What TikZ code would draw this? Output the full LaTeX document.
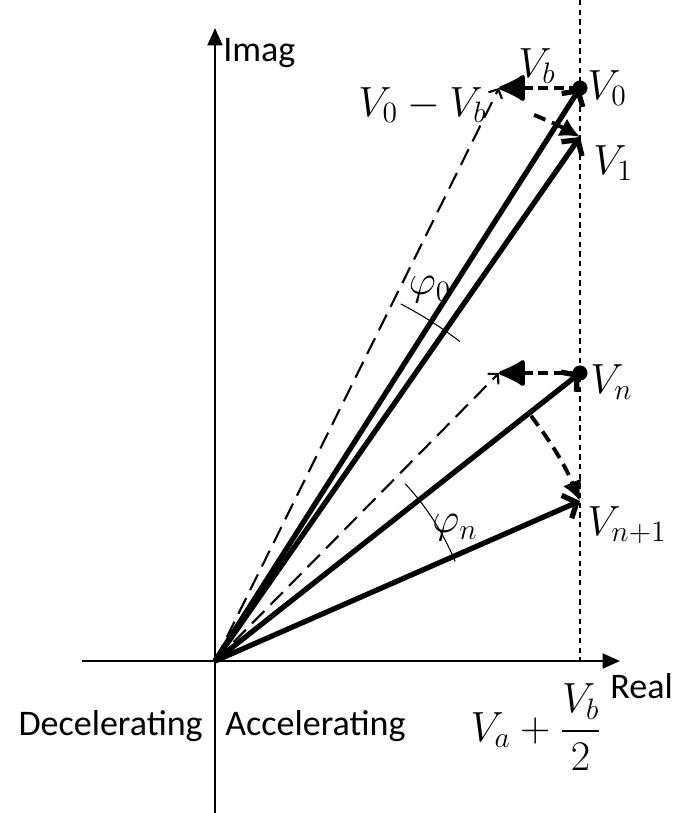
\documentclass[tikz,border=0pt]{standalone}
\usepackage{fix-cm}
\usepackage{amsmath}
\usepackage{fontspec}
\setsansfont{Carlito}
\usetikzlibrary{arrows.meta,calc}

\begin{document}
\begin{tikzpicture}[
  axis/.style={draw, line width=1.3pt, -{Triangle[length=0.35cm,width=0.3cm]}},
  vec/.style={draw, line width=3pt, -{Straight Barb[length=0.22cm,width=0.5cm]}},
  diffvec/.style={draw, line width=1.2pt, dash pattern=on 10pt off 5pt,
                  -{Straight Barb[length=0.14cm,width=0.3cm]}},
  vbvec/.style={draw, line width=2.2pt, dash pattern=on 6pt off 3pt,
                -{Latex[length=0.6cm,width=0.6cm,round]}},
  rotvec/.style={draw, line width=2.2pt, dash pattern=on 7pt off 4pt,
                 -{Latex[length=0.4cm,width=0.4cm]}},
  guide/.style={draw, line width=0.6pt, dash pattern=on 3pt off 2.5pt},
  anglearc/.style={draw, line width=0.6pt},
  dot/.style={circle, fill, inner sep=0pt, minimum size=0.3cm},
  axlabel/.style={font=\sffamily\fontsize{20.5}{24}\selectfont, inner sep=0pt},
  mlabel/.style={font=\fontsize{24}{28}\selectfont, inner sep=0pt},
]
  \useasboundingbox (-4.3,-3.04) rectangle (9.32,13.22);

  % ===== Axes =====
  \coordinate (O) at (0,0);
  \coordinate (xl) at (-2.66,0);
  \coordinate (xr) at (8.1,0);
  \coordinate (yb) at (0,-3.04);
  \coordinate (yt) at (0,12.66);
  \draw[axis] (xl) -- (xr);
  \draw[axis] (yb) -- (yt);
  \node[axlabel, anchor=base west] (imag) at (0.16,11.98) {Imag};
  \node[axlabel, anchor=base west] (real) at (7.9,-0.74) {Real};
  \node[axlabel, anchor=base east] (decel) at (-0.24,-1.48) {Decelerating};
  \node[axlabel, anchor=base west] (accel) at (0.2,-1.48) {Accelerating};

  % ===== Limit line Re = Va + Vb/2 =====
  \coordinate (gtop) at (7.3,13.22);
  \coordinate (gbot) at (7.3,0);
  \draw[guide] (gtop) -- (gbot);
  \node[mlabel] (limit) at (6.42,-1.32) {$V_a+\dfrac{V_b}{2}$};

  % ===== Upper phasors =====
  \node[dot] (V0) at (7.3,11.46) {};
  \coordinate (V1) at (7.3,10.48);
  \coordinate (V0b) at (5.68,11.46);
  \coordinate (r0) at (59.7:12.65);
  \draw[diffvec] (O) -- (V0b);
  \draw[vec] (O) -- (V0.center);
  \draw[vec] (O) -- (V1);
  \draw[vbvec] (V0.center) -- (V0b);
  \draw[rotvec] (r0) to[bend left=3] (V1);
  \draw[anglearc] (62.5:8.05) arc[start angle=62.5, end angle=52.5, radius=8.05];

  \node[mlabel, anchor=west] (lV0) at (7.44,11.46) {$V_0$};
  \node[mlabel, anchor=west] (lV1) at (7.56,9.96) {$V_1$};
  \node[mlabel] (lVb) at (6.44,11.9) {$V_b$};
  \node[mlabel, anchor=east] (lV0b) at (5.44,11.12) {$V_0-V_b$};
  \node[mlabel] (lphi0) at (4.3,7.42) {$\varphi_0$};

  % ===== Lower phasors =====
  \node[dot] (Vn) at (7.3,5.76) {};
  \coordinate (Vn1) at (7.3,3.2);
  \coordinate (Vnb) at (5.68,5.76);
  \coordinate (rn) at (37.8:8.0);
  \draw[diffvec] (O) -- (Vnb);
  \draw[vec] (O) -- (Vn.center);
  \draw[vec] (O) -- (Vn1);
  \draw[vbvec] (Vn.center) -- (Vnb);
  \draw[rotvec] (rn) to[bend left=7] (Vn1);
  \draw[anglearc] (43:5.2) arc[start angle=43, end angle=22.5, radius=5.2];

  \node[mlabel, anchor=west] (lVn) at (7.5,5.58) {$V_n$};
  \node[mlabel, anchor=west] (lVn1) at (7.44,2.72) {$V_{n+1}$};
  \node[mlabel] (lphin) at (4.8,2.66) {$\varphi_n$};

\end{tikzpicture}
\end{document}
